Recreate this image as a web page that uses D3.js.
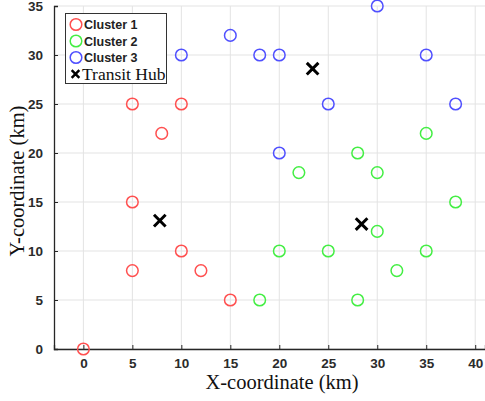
<!DOCTYPE html>
<html>
<head>
<meta charset="utf-8">
<script src="https://cdn.jsdelivr.net/npm/d3@7"></script>
<style>
  body { margin: 0; background: #fff; }
  .tick text { font-family: Arial, "Liberation Sans", sans-serif; font-weight: bold; font-size: 13.5px; fill: #2b2b2b; }
</style>
</head>
<body>
<div id="chart"></div>
<script>
// data
const cluster1 = [[0, 0], [5, 8], [5, 15], [10, 10], [12, 8], [15, 5], [5, 25], [10, 25], [8, 22]];
const cluster2 = [[18, 5], [20, 10], [25, 10], [28, 5], [30, 12], [32, 8], [35, 10], [38, 15], [22, 18], [28, 20], [30, 18], [35, 22]];
const cluster3 = [[10, 30], [15, 32], [18, 30], [20, 30], [30, 35], [35, 30], [25, 25], [38, 25], [20, 20]];
const hubs = [[7.8, 13.1], [28.4, 12.75], [23.4, 28.6]];
const xTicks = [0, 5, 10, 15, 20, 25, 30, 35, 40];
const yTicks = [0, 5, 10, 15, 20, 25, 30, 35];
const clusterNames = ["Cluster 1", "Cluster 2", "Cluster 3"];
const clusterColors = ["#ff5050", "#44ee44", "#5050ff"];

const width = 485, height = 401;
const margin = ({ top: 6, right: 0, bottom: 52, left: 54 });

const svg = d3.select("#chart")
    .append("svg")
    .attr("width", width)
    .attr("height", height);

const x = d3.scaleLinear().domain([-3, 41]).range([margin.left, width - margin.right]);
const y = d3.scaleLinear().domain([0, 35]).range([height - margin.bottom, margin.top]);

// grid
svg.append("g").selectAll("line")
    .data(xTicks)
    .enter().append("line")
    .attr("x1", d => x(d)).attr("x2", d => x(d))
    .attr("y1", y(0)).attr("y2", y(35))
    .attr("stroke", "#e3e3e3").attr("stroke-width", 1);

svg.append("g").selectAll("line")
    .data(yTicks)
    .enter().append("line")
    .attr("x1", x(-3)).attr("x2", x(41))
    .attr("y1", d => y(d)).attr("y2", d => y(d))
    .attr("stroke", "#e3e3e3").attr("stroke-width", 1);

// axes
const xAxis = svg.append("g")
    .attr("transform", "translate(0," + y(0) + ")")
    .call(d3.axisBottom(x).tickValues(xTicks).tickSize(-4).tickPadding(9));
const yAxis = svg.append("g")
    .attr("transform", "translate(" + x(-3) + ",0)")
    .call(d3.axisLeft(y).tickValues(yTicks).tickSize(-4).tickPadding(11));

[xAxis, yAxis].forEach(function (a) {
    a.select(".domain").attr("stroke", "#262626").attr("stroke-width", 1.3);
    a.selectAll(".tick line").attr("stroke", "#262626");
});

// clusters
[cluster1, cluster2, cluster3].forEach(function (pts, i) {
    svg.append("g").selectAll("circle")
        .data(pts)
        .enter().append("circle")
        .attr("cx", d => x(d[0]))
        .attr("cy", d => y(d[1]))
        .attr("r", 5.8)
        .attr("fill", "none")
        .attr("stroke", clusterColors[i])
        .attr("stroke-width", 1.5);
});

// transit hubs
const cross = d3.symbol().type(d3.symbolX).size(90);
svg.append("g").selectAll("path")
    .data(hubs)
    .enter().append("path")
    .attr("transform", d => "translate(" + x(d[0]) + "," + y(d[1]) + ")")
    .attr("d", cross)
    .attr("fill", "none")
    .attr("stroke", "#000")
    .attr("stroke-width", 3);

// axis titles
svg.append("text")
    .attr("x", 282).attr("y", 389)
    .attr("text-anchor", "middle")
    .style("font-family", "'Liberation Serif', 'Times New Roman', serif")
    .style("font-size", "20.5px")
    .attr("fill", "#111")
    .text("X-coordinate (km)");

svg.append("text")
    .attr("transform", "translate(24,181) rotate(-90)")
    .attr("text-anchor", "middle")
    .style("font-family", "'Liberation Serif', 'Times New Roman', serif")
    .style("font-size", "20.5px")
    .attr("fill", "#111")
    .text("Y-coordinate (km)");

// legend
const legend = svg.append("g");
legend.append("rect")
    .attr("x", 65.5).attr("y", 13.5)
    .attr("width", 101).attr("height", 70)
    .attr("fill", "#fff")
    .attr("stroke", "#333").attr("stroke-width", 1);

clusterNames.forEach(function (name, i) {
    const ly = 24.5 + i * 16.5;
    legend.append("circle")
        .attr("cx", 76).attr("cy", ly).attr("r", 5.8)
        .attr("fill", "none").attr("stroke", clusterColors[i]).attr("stroke-width", 1.5);
    legend.append("text")
        .attr("x", 84).attr("y", ly + 4.5)
        .style("font-family", "Arial, 'Liberation Sans', sans-serif")
        .style("font-weight", "bold")
        .style("font-size", "12.5px")
        .attr("fill", "#222")
        .text(name);
});

legend.append("path")
    .attr("transform", "translate(75.5,74)")
    .attr("d", d3.symbol().type(d3.symbolX).size(40))
    .attr("fill", "none").attr("stroke", "#000").attr("stroke-width", 2.5);
legend.append("text")
    .attr("x", 82).attr("y", 79.5)
    .style("font-family", "'Liberation Serif', 'Times New Roman', serif")
    .style("font-size", "17.5px")
    .attr("fill", "#111")
    .text("Transit Hub");
</script>
</body>
</html>
